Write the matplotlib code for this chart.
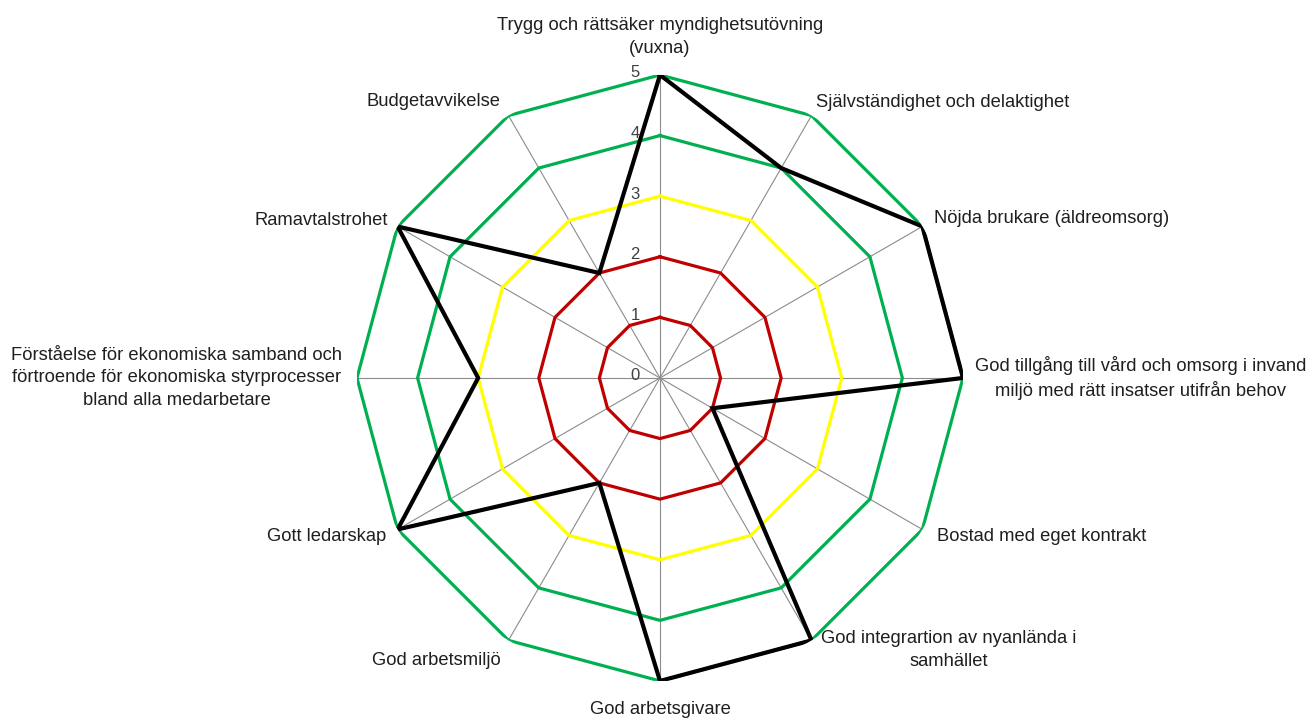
import numpy as np
import matplotlib
matplotlib.use("Agg")
import matplotlib.pyplot as plt

plt.rcParams['font.family'] = ['Liberation Sans', 'DejaVu Sans']

# Categories, clockwise from the top
categories = [
    "Trygg och rättsäker myndighetsutövning\n(vuxna)",
    "Självständighet och delaktighet",
    "Nöjda brukare (äldreomsorg)",
    "God tillgång till vård och omsorg i invand\nmiljö med rätt insatser utifrån behov",
    "Bostad med eget kontrakt",
    "God integrartion av nyanlända i\nsamhället",
    "God arbetsgivare",
    "God arbetsmiljö",
    "Gott ledarskap",
    "Förståelse för ekonomiska samband och\nförtroende för ekonomiska styrprocesser\nbland alla medarbetare",
    "Ramavtalstrohet",
    "Budgetavvikelse",
]
results = [5, 4, 5, 5, 1, 5, 5, 2, 5, 3, 5, 2]

# Reference rings
ring_levels = [1, 2, 3, 4, 5]
ring_colors = ['#C00000', '#C00000', '#FFFF00', '#00B050', '#00B050']
tick_labels = ['0', '1', '2', '3', '4', '5']

n = len(categories)
angles = np.arange(n) * 2 * np.pi / n
closed = np.append(angles, angles[0])

fig = plt.figure(figsize=(13.1, 7.2), dpi=100)
ax = fig.add_axes([0.2725, 0.0542, 0.4626, 0.8417], projection='polar')
ax.set_theta_zero_location('N')
ax.set_theta_direction(-1)
ax.set_ylim(0, 5)
ax.grid(False)
ax.spines['polar'].set_visible(False)
ax.set_xticks([])
ax.set_yticks([])
ax.patch.set_alpha(0)

# Spokes
for a in angles:
    ax.plot([a, a], [0, 5], color='#8c8c8c', linewidth=0.8, zorder=1)

# Rings (straight chords -> 12-gon)
for lvl, col in zip(ring_levels, ring_colors):
    ax.plot(closed, [lvl] * (n + 1), color=col, linewidth=2.3, zorder=2)

# Data series
vals = results + results[:1]
ax.plot(closed, vals, color='black', linewidth=3.0, zorder=3, solid_joinstyle='miter')

# Value axis labels
for i, t in enumerate(tick_labels):
    ax.annotate(t, xy=(0, i), xytext=(-20, 2), textcoords='offset pixels',
                ha='right', va='center', fontsize=12, color='#404040')

# Category labels: (offset x, offset y, ha, va)
label_pos = [
    (0, 18, 'center', 'bottom'),
    (5, 13, 'left', 'center'),
    (12, 8, 'left', 'center'),
    (178, 0, 'center', 'center'),
    (15, -7, 'left', 'center'),
    (137, 10, 'center', 'top'),
    (0, -20, 'center', 'top'),
    (-8, -20, 'right', 'center'),
    (-11, -7, 'right', 'center'),
    (-180, 0, 'center', 'center'),
    (-10, 6, 'right', 'center'),
    (-8, 14, 'right', 'center'),
]
for a, lab, (dx, dy, ha, va) in zip(angles, categories, label_pos):
    ax.annotate(lab, xy=(a, 5), xytext=(dx, dy), textcoords='offset pixels',
                ha=ha, va=va, multialignment='center', fontsize=13.2,
                color='#1f1f1f', linespacing=1.45)

fig.savefig('out.png', dpi=100)
